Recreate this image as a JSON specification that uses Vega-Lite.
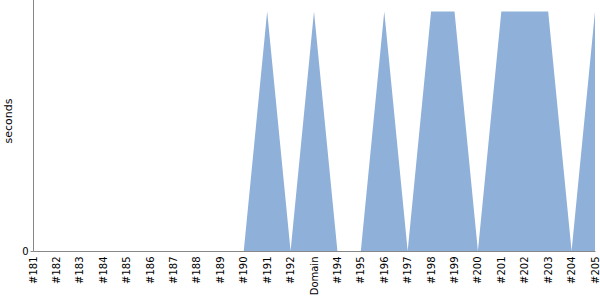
{
  "$schema": "https://vega.github.io/schema/vega-lite/v6.json",
  "autosize": {"type": "none"},
  "padding": {"left": 33, "top": -10, "right": 5, "bottom": 49},
  "width": 562,
  "height": 261,
  "background": "white",
  "config": {"view": {"stroke": null}, "font": "DejaVu Sans"},
  "data": {"values": [
    {"build": "#181", "seconds": 0},
    {"build": "#182", "seconds": 0},
    {"build": "#183", "seconds": 0},
    {"build": "#184", "seconds": 0},
    {"build": "#185", "seconds": 0},
    {"build": "#186", "seconds": 0},
    {"build": "#187", "seconds": 0},
    {"build": "#188", "seconds": 0},
    {"build": "#189", "seconds": 0},
    {"build": "#190", "seconds": 0},
    {"build": "#191", "seconds": 1},
    {"build": "#192", "seconds": 0},
    {"build": "Domain", "seconds": 1},
    {"build": "#194", "seconds": 0},
    {"build": "#195", "seconds": 0},
    {"build": "#196", "seconds": 1},
    {"build": "#197", "seconds": 0},
    {"build": "#198", "seconds": 1},
    {"build": "#199", "seconds": 1},
    {"build": "#200", "seconds": 0},
    {"build": "#201", "seconds": 1},
    {"build": "#202", "seconds": 1},
    {"build": "#203", "seconds": 1},
    {"build": "#204", "seconds": 0},
    {"build": "#205", "seconds": 1}
  ]},
  "mark": {"type": "area", "color": "#8fb0d9", "opacity": 1},
  "encoding": {
    "x": {
      "field": "build", "type": "ordinal", "sort": null,
      "scale": {"type": "point", "padding": 0},
      "axis": {"title": null, "labelAngle": -90, "labelFontSize": 10, "labelColor": "#000", "domainColor": "#888", "ticks": false, "labelPadding": 5, "grid": false}
    },
    "y": {
      "field": "seconds", "type": "quantitative",
      "scale": {"domain": [0, 1.09], "nice": false},
      "axis": {"title": "seconds", "values": [0], "titleFontWeight": "normal", "titleFontSize": 11, "titleColor": "#000", "labelColor": "#000", "labelFontSize": 10, "domainColor": "#888", "tickColor": "#888", "tickSize": 3, "grid": false, "titleX": -20}
    }
  }
}
